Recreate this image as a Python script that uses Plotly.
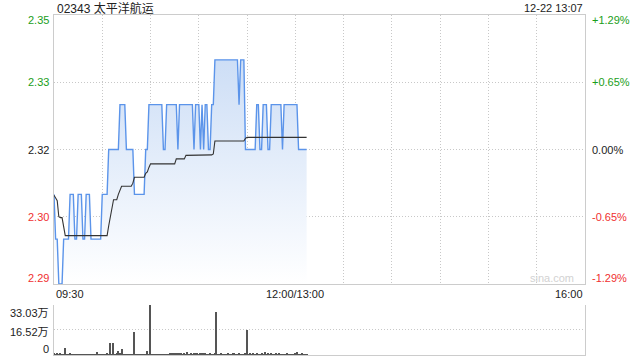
import plotly.graph_objects as go

# ---------------- data ----------------
title_text = "02343 太平洋航运"
time_text = "12-22 13:07"
prev_close = 2.32

# minute index from 09:30 (0..157 -> 13:07), session 09:30-12:00 + 13:00-16:00 = 330 min
minutes = list(range(158))

price = [
    2.31, 2.30, 2.30, 2.29, 2.29, 2.29, 2.30, 2.30, 2.30, 2.30,   # 0-9
    2.31, 2.31, 2.31, 2.30, 2.30, 2.31, 2.31, 2.31, 2.30, 2.30,   # 10-19
    2.31, 2.31, 2.31, 2.30, 2.30, 2.30, 2.30, 2.30, 2.30, 2.30,   # 20-29
    2.31, 2.31, 2.31, 2.31, 2.32, 2.32, 2.32, 2.32, 2.32, 2.32,   # 30-39
    2.32, 2.33, 2.33, 2.33, 2.33, 2.32, 2.32, 2.32, 2.32, 2.32,   # 40-49
    2.31, 2.31, 2.31, 2.31, 2.31, 2.31, 2.31, 2.32, 2.32, 2.33,   # 50-59
    2.33, 2.33, 2.33, 2.33, 2.33, 2.33, 2.33, 2.33, 2.32, 2.32,   # 60-69
    2.33, 2.33, 2.33, 2.33, 2.33, 2.33, 2.33, 2.32, 2.33, 2.33,   # 70-79
    2.33, 2.33, 2.33, 2.33, 2.33, 2.33, 2.33, 2.32, 2.33, 2.33,   # 80-89
    2.33, 2.32, 2.33, 2.32, 2.33, 2.33, 2.32, 2.32, 2.33, 2.33,   # 90-99
    2.34, 2.34, 2.34, 2.34, 2.34, 2.34, 2.34, 2.34, 2.34, 2.34,   # 100-109
    2.34, 2.34, 2.34, 2.34, 2.34, 2.33, 2.34, 2.34, 2.34, 2.32,   # 110-119
    2.32, 2.32, 2.32, 2.32, 2.32, 2.32, 2.33, 2.33, 2.32, 2.32,   # 120-129
    2.33, 2.33, 2.33, 2.32, 2.32, 2.33, 2.33, 2.33, 2.33, 2.33,   # 130-139
    2.33, 2.33, 2.32, 2.33, 2.33, 2.33, 2.33, 2.33, 2.33, 2.33,   # 140-149
    2.33, 2.33, 2.32, 2.32, 2.32, 2.32, 2.32, 2.32,               # 150-157
]

avg_price = [
    2.3098, 2.3090, 2.3086, 2.3050, 2.3048, 2.3048, 2.3030, 2.3008, 2.3008, 2.3008,  # 0-9
    2.3008, 2.3008, 2.3008, 2.3008, 2.3008, 2.3008, 2.3008, 2.3008, 2.3008, 2.3008,  # 10-19
    2.3008, 2.3008, 2.3008, 2.3008, 2.3008, 2.3008, 2.3008, 2.3008, 2.3008, 2.3008,  # 20-29
    2.3008, 2.3008, 2.3008, 2.3008, 2.3030, 2.3048, 2.3070, 2.3088, 2.3088, 2.3088,  # 30-39
    2.3100, 2.3110, 2.3118, 2.3118, 2.3118, 2.3118, 2.3118, 2.3118, 2.3118, 2.3125,  # 40-49
    2.3138, 2.3138, 2.3138, 2.3138, 2.3138, 2.3138, 2.3138, 2.3147, 2.3150, 2.3160,  # 50-59
    2.3168, 2.3168, 2.3168, 2.3168, 2.3168, 2.3168, 2.3168, 2.3168, 2.3168, 2.3168,  # 60-69
    2.3168, 2.3168, 2.3168, 2.3168, 2.3168, 2.3168, 2.3179, 2.3179, 2.3179, 2.3179,  # 70-79
    2.3179, 2.3179, 2.3187, 2.3187, 2.3187, 2.3187, 2.3187, 2.3187, 2.3187, 2.3187,  # 80-89
    2.3187, 2.3187, 2.3187, 2.3187, 2.3187, 2.3187, 2.3187, 2.3187, 2.3188, 2.3190,  # 90-99
    2.3219, 2.3219, 2.3219, 2.3219, 2.3219, 2.3219, 2.3219, 2.3219, 2.3219, 2.3219,  # 100-109
    2.3219, 2.3219, 2.3219, 2.3219, 2.3219, 2.3219, 2.3219, 2.3219, 2.3219, 2.3225,  # 110-119
    2.3227, 2.3227, 2.3227, 2.3227, 2.3227, 2.3227, 2.3227, 2.3227, 2.3227, 2.3227,  # 120-129
    2.3227, 2.3227, 2.3227, 2.3227, 2.3227, 2.3227, 2.3227, 2.3227, 2.3227, 2.3227,  # 130-139
    2.3227, 2.3227, 2.3227, 2.3227, 2.3227, 2.3227, 2.3227, 2.3227, 2.3227, 2.3227,  # 140-149
    2.3227, 2.3227, 2.3227, 2.3227, 2.3227, 2.3227, 2.3227, 2.3227,                  # 150-157
]

# volume in 万 shares
volume_wan = [
    0.8, 0.6, 0.9, 0.5, 0.7, 0.4, 0.6, 4.9, 0.5, 0.4,
    1.1, 0.5, 0.4, 0.6, 0.3, 0.5, 0.4, 0.6, 0.3, 0.5,
    0.4, 0.6, 0.5, 0.4, 0.3, 0.5, 0.4, 2.2, 0.5, 0.4,
    0.6, 0.5, 0.4, 0.7, 0.6, 7.8, 0.5, 7.8, 0.6, 0.9,
    2.5, 0.7, 4.2, 0.6, 0.5, 0.4, 0.6, 0.5, 0.4, 0.3,
    15.2, 0.5, 0.4, 0.6, 0.3, 0.4, 0.5, 0.6, 2.9, 0.4,
    33.03, 0.5, 0.4, 0.3, 0.5, 0.4, 0.6, 0.3, 0.5, 0.4,
    0.6, 0.5, 0.8, 1.2, 1.0, 1.3, 1.1, 0.9, 1.2, 0.7,
    0.5, 1.0, 0.6, 2.2, 0.5, 0.8, 0.6, 0.9, 0.7, 1.6,
    0.6, 0.8, 1.0, 0.7, 0.9, 0.6, 0.5, 0.8, 0.6, 0.4,
    0.7, 28.3, 0.6, 0.5, 0.7, 0.4, 0.6, 0.5, 0.8, 0.6,
    0.5, 1.0, 0.7, 0.6, 0.5, 0.8, 0.4, 0.6, 0.5, 0.7,
    16.3, 0.6, 0.8, 0.5, 0.7, 0.6, 0.9, 0.5, 0.6, 0.7,
    0.5, 2.2, 0.6, 0.8, 0.5, 0.7, 0.6, 0.5, 0.8, 0.6,
    0.7, 0.5, 0.6, 0.4, 0.5, 0.7, 0.6, 0.5, 0.4, 0.6,
    0.7, 2.2, 0.5, 0.6, 1.5, 0.4, 0.5, 0.3,
]

price_tick_vals = [2.29, 2.305, 2.32, 2.335, 2.35]
price_tick_text = ["2.29", "2.30", "2.32", "2.33", "2.35"]
pct_tick_text = ["-1.29%", "-0.65%", "0.00%", "+0.65%", "+1.29%"]
time_grid_vals = [30, 60, 90, 120, 150, 180, 210, 240, 270, 300]
time_label_vals = [0, 150, 330]
time_label_text = ["09:30", "12:00/13:00", "16:00"]
vol_tick_vals = [0, 16.52, 33.03]
vol_tick_text = ["0", "16.52万", "33.03万"]

# ---------------- layout geometry (pixels of a 640x360 page) ----------------
W, H = 640, 360
PX_L, PX_R = 54, 585
PY_T, PY_B = 15, 284
VY_T, VY_B = 305, 355

def px(x):
    return x / W

def py(y):
    return 1 - y / H

GREEN = "#1a9e1a"
RED = "#f03030"
BLACK = "#222222"
FONT = "Liberation Sans, Arial, Noto Sans CJK SC, sans-serif"

fig = go.Figure()

fig.add_trace(go.Scatter(
    x=minutes, y=price, mode="lines",
    line=dict(color="#5b94ea", width=1.4, shape="linear"),
    fill="tozeroy",
    fillgradient=dict(type="vertical",
                      colorscale=[[0, "rgba(255,255,255,1)"], [1, "rgba(205,222,246,1)"]],
                      start=2.29, stop=2.34),
    hoverinfo="skip", xaxis="x", yaxis="y",
))
fig.add_trace(go.Scatter(
    x=minutes, y=avg_price, mode="lines",
    line=dict(color="#333333", width=1.1),
    hoverinfo="skip", xaxis="x", yaxis="y",
))
fig.add_trace(go.Bar(
    x=minutes, y=volume_wan, width=0.7,
    marker=dict(color="#555555", line=dict(width=0)),
    hoverinfo="skip", xaxis="x2", yaxis="y2",
))

grid = dict(showgrid=True, gridcolor="#c8c8c8", gridwidth=1, griddash="1px,2px")

fig.update_layout(
    width=W, height=H,
    margin=dict(l=0, r=0, t=0, b=0),
    paper_bgcolor="white", plot_bgcolor="white",
    showlegend=False, bargap=0,
    font=dict(family=FONT, size=11, color=BLACK),
    xaxis=dict(domain=[px(PX_L), px(PX_R)], range=[0, 330], tickvals=time_grid_vals,
               showticklabels=False, ticks="", zeroline=False,
               showline=True, mirror=True, linecolor="#cccccc", linewidth=1,
               anchor="y", fixedrange=True, **grid),
    yaxis=dict(domain=[py(PY_B), py(PY_T)], range=[2.29, 2.35], tickvals=price_tick_vals[1:4],
               showticklabels=False, ticks="", zeroline=False,
               showline=True, mirror=True, linecolor="#cccccc", linewidth=1,
               anchor="x", fixedrange=True, **grid),
    xaxis2=dict(domain=[px(PX_L), px(PX_R)], range=[0, 330], showgrid=False,
                showticklabels=False, ticks="", zeroline=False,
                showline=True, mirror=False, linecolor="#cccccc", linewidth=1,
                anchor="y2", fixedrange=True),
    yaxis2=dict(domain=[py(VY_B), py(VY_T)], range=[0, 33.03], tickvals=vol_tick_vals[1:],
                showticklabels=False, ticks="", zeroline=False,
                showline=True, mirror=True, linecolor="#cccccc", linewidth=1,
                anchor="x2", fixedrange=True, **grid),
)

ann = []
# title and time
ann.append(dict(text=title_text, x=px(PX_L + 1), y=py(8), xref="paper", yref="paper",
                xanchor="left", yanchor="middle", showarrow=False,
                font=dict(size=12, color=BLACK)))
ann.append(dict(text=time_text, x=px(PX_R), y=py(8), xref="paper", yref="paper",
                xanchor="right", yanchor="middle", showarrow=False,
                font=dict(size=11, color=BLACK)))

# price axis labels (left) and percent labels (right)
for i, (v, t, p) in enumerate(zip(price_tick_vals, price_tick_text, pct_tick_text)):
    if v > prev_close:
        col = GREEN
    elif v < prev_close:
        col = RED
    else:
        col = BLACK
    shift = 0
    if i == 0:
        shift = 6
    elif i == len(price_tick_vals) - 1:
        shift = -5
    ann.append(dict(text=t, x=px(51), y=v, xref="paper", yref="y",
                    xanchor="right", yanchor="middle", yshift=shift, showarrow=False,
                    font=dict(size=11, color=col)))
    ann.append(dict(text=p, x=px(590), y=v, xref="paper", yref="y",
                    xanchor="left", yanchor="middle", yshift=shift, showarrow=False,
                    font=dict(size=11, color=col)))

# time labels
for v, t in zip(time_label_vals, time_label_text):
    if v == 0:
        xa = "left"
    elif v == 330:
        xa = "right"
    else:
        xa = "center"
    ann.append(dict(text=t, x=v, y=py(294), xref="x", yref="paper",
                    xanchor=xa, yanchor="middle", showarrow=False,
                    font=dict(size=11, color=BLACK)))

# volume labels
vol_shift = {0: 6, 1: -2, 2: -8}
for i, (v, t) in enumerate(zip(vol_tick_vals, vol_tick_text)):
    ann.append(dict(text=t, x=px(51), y=v, xref="paper", yref="y2",
                    xanchor="right", yanchor="middle", yshift=vol_shift[i], showarrow=False,
                    font=dict(size=11, color=BLACK)))

# watermark
ann.append(dict(text="sina.com", x=px(552), y=py(278), xref="paper", yref="paper",
                xanchor="center", yanchor="middle", showarrow=False,
                font=dict(size=11, color="#d2d2d2")))

fig.update_layout(annotations=ann)

fig.write_html("out.html")
